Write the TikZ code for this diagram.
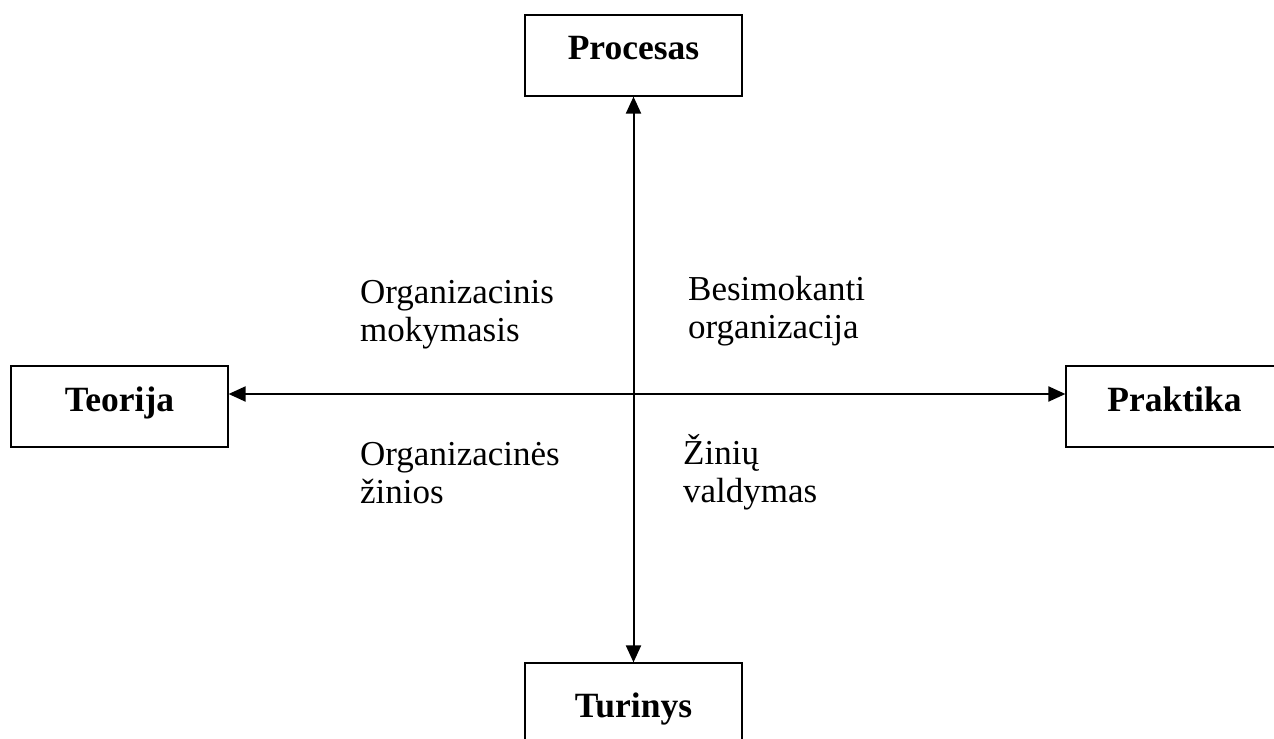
\documentclass[tikz,border=0pt]{standalone}
\usepackage{fontspec}
\setmainfont{Liberation Serif}
\usetikzlibrary{arrows.meta}
\begin{document}
\begin{tikzpicture}[x=1bp,y=-1bp,
  box/.style={draw, line width=1.2bp, inner sep=0pt, minimum width=217bp,
    text height=45bp, text depth=36bp,
    font=\fontsize{35.5bp}{40bp}\selectfont\bfseries},
  tip/.tip={Triangle[width=15bp,length=17bp]},
  axis/.style={line width=2bp, tip-tip},
  note/.style={anchor=base west, inner sep=0pt, align=left,
    font=\fontsize{35bp}{38bp}\selectfont}]
\useasboundingbox (0,0) rectangle (1274,739);

% the four poles
\node[box] (proc) at (633.5,55.5) {Procesas};
\node[box] (teo) at (119.5,406.5) {Teorija};
\node[box] (prak) at (1174.5,406.5) {Praktika};
\node[box, text height=54bp, text depth=27bp] (tur) at (633.5,703.5) {Turinys};

% axes crossing at the centre
\coordinate (c) at (633.5,394);
\draw[axis] (proc.south) -- (tur.north);
\draw[axis] (c -| teo.east) -- (c -| prak.west);

% quadrant labels (anchored on the baseline of their last line)
\node[note] (q1) at (360,341) {Organizacinis\\mokymasis};
\node[note] (q2) at (688,338) {Besimokanti\\organizacija};
\node[note] (q3) at (360,503) {Organizacinės\\žinios};
\node[note] (q4) at (683,502) {Žinių\\valdymas};
\end{tikzpicture}
\end{document}
